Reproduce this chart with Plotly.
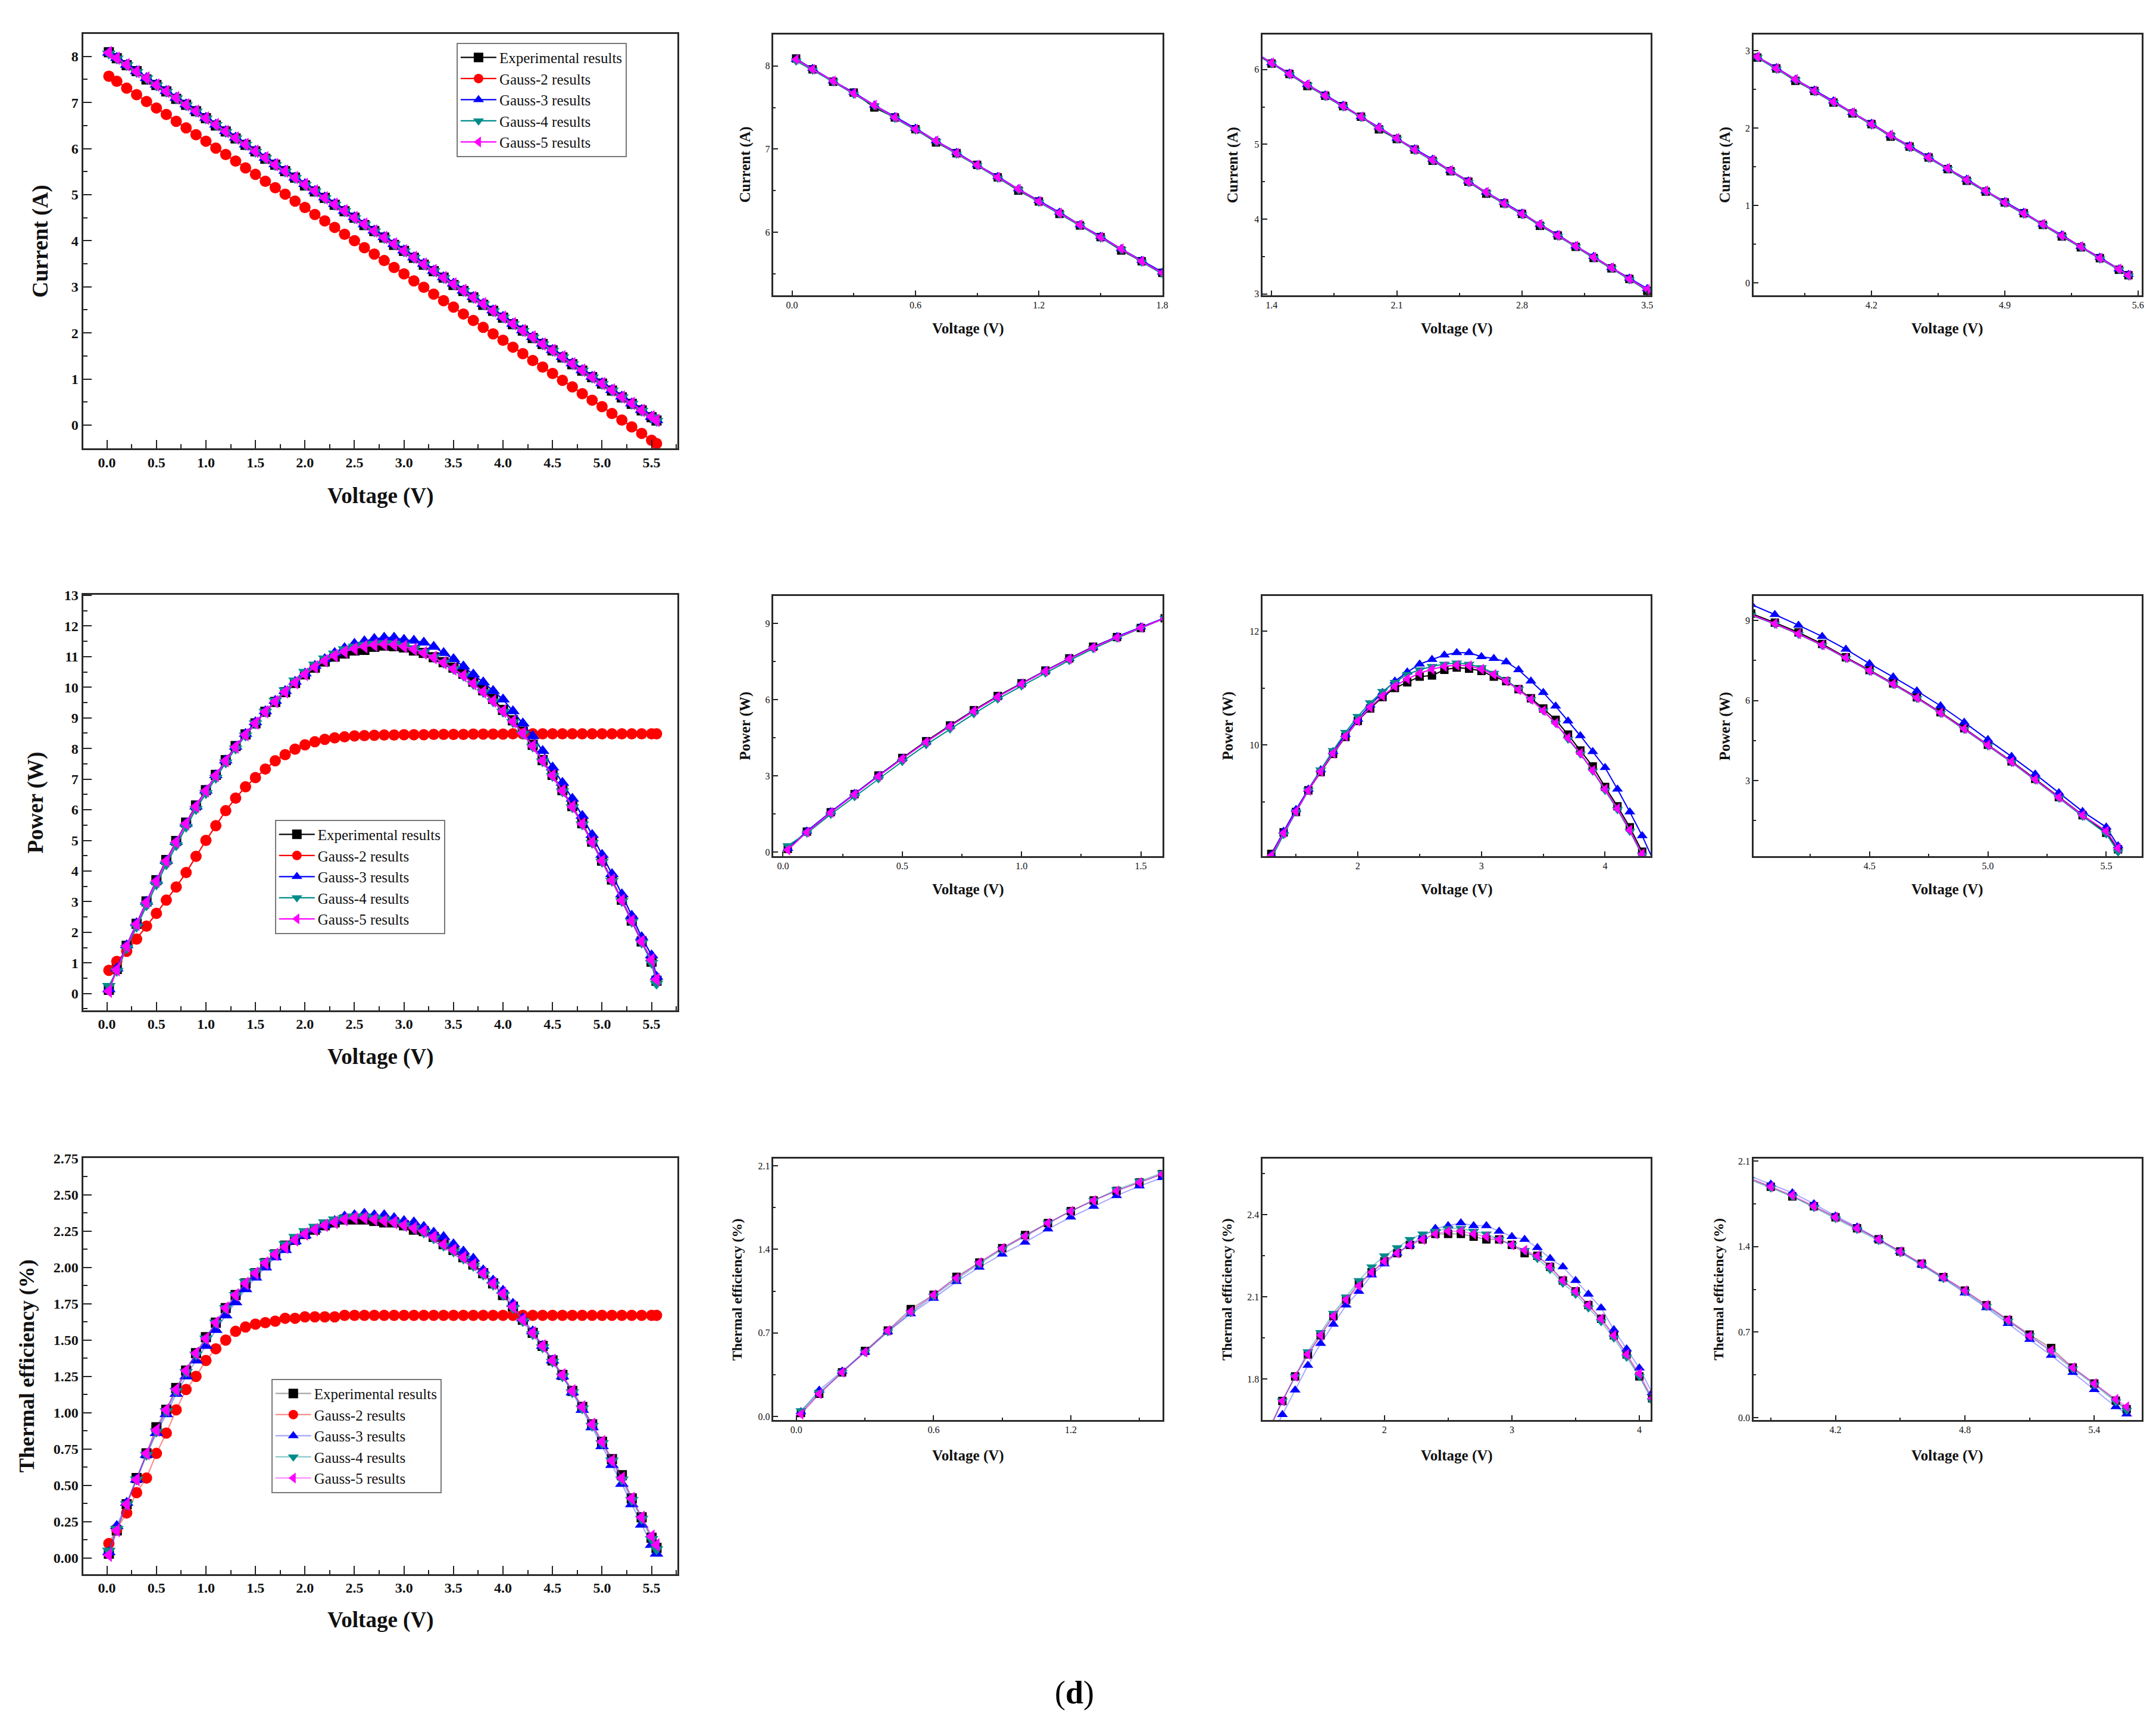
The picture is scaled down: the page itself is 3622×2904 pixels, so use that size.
import plotly.graph_objects as go

# ---- data (voltage grid shared by all series) ----
voltage = [0.02, 0.1, 0.2, 0.3, 0.4, 0.5, 0.6, 0.7, 0.8, 0.9,
           1.0, 1.1, 1.2, 1.3, 1.4, 1.5, 1.6, 1.7, 1.8, 1.9,
           2.0, 2.1, 2.2, 2.3, 2.4, 2.5, 2.6, 2.7, 2.8, 2.9,
           3.0, 3.1, 3.2, 3.3, 3.4, 3.5, 3.6, 3.7, 3.8, 3.9,
           4.0, 4.1, 4.2, 4.3, 4.4, 4.5, 4.6, 4.7, 4.8, 4.9,
           5.0, 5.1, 5.2, 5.3, 5.4, 5.5, 5.55]

cur_exp = [8.09, 7.96, 7.81, 7.68, 7.50, 7.38, 7.24, 7.08, 6.95, 6.81,
           6.66, 6.50, 6.37, 6.22, 6.08, 5.94, 5.78, 5.65, 5.51, 5.37,
           5.20, 5.07, 4.93, 4.78, 4.64, 4.50, 4.34, 4.21, 4.07, 3.91,
           3.78, 3.63, 3.48, 3.34, 3.20, 3.04, 2.91, 2.77, 2.61, 2.48,
           2.33, 2.19, 2.05, 1.89, 1.76, 1.62, 1.47, 1.32, 1.18, 1.04,
           0.90, 0.75, 0.60, 0.46, 0.32, 0.17, 0.10]
cur_g2 = [7.57, 7.46, 7.31, 7.17, 7.02, 6.88, 6.74, 6.59, 6.45, 6.30,
          6.16, 6.01, 5.87, 5.73, 5.58, 5.44, 5.29, 5.15, 5.01, 4.86,
          4.72, 4.57, 4.43, 4.29, 4.14, 4.00, 3.85, 3.71, 3.57, 3.42,
          3.28, 3.13, 2.99, 2.84, 2.70, 2.56, 2.41, 2.27, 2.12, 1.98,
          1.84, 1.69, 1.55, 1.40, 1.26, 1.12, 0.97, 0.83, 0.68, 0.54,
          0.40, 0.25, 0.11, -0.04, -0.18, -0.33, -0.40]
cur_g3 = [8.08, 7.97, 7.82, 7.68, 7.53, 7.39, 7.25, 7.10, 6.96, 6.81,
          6.67, 6.52, 6.38, 6.24, 6.09, 5.95, 5.80, 5.66, 5.52, 5.37,
          5.23, 5.08, 4.94, 4.80, 4.65, 4.51, 4.36, 4.22, 4.08, 3.93,
          3.79, 3.64, 3.50, 3.35, 3.21, 3.07, 2.92, 2.78, 2.63, 2.49,
          2.35, 2.20, 2.06, 1.91, 1.77, 1.63, 1.48, 1.34, 1.19, 1.05,
          0.91, 0.76, 0.62, 0.47, 0.33, 0.18, 0.11]
cur_g4 = [8.06, 7.95, 7.81, 7.66, 7.52, 7.37, 7.23, 7.09, 6.94, 6.80,
          6.65, 6.51, 6.36, 6.22, 6.08, 5.93, 5.79, 5.64, 5.50, 5.36,
          5.21, 5.07, 4.92, 4.78, 4.64, 4.49, 4.35, 4.20, 4.06, 3.92,
          3.77, 3.63, 3.48, 3.34, 3.19, 3.05, 2.91, 2.76, 2.62, 2.47,
          2.33, 2.19, 2.04, 1.90, 1.75, 1.61, 1.47, 1.32, 1.18, 1.03,
          0.89, 0.75, 0.60, 0.46, 0.31, 0.17, 0.09]
cur_g5 = [8.08, 7.96, 7.82, 7.67, 7.53, 7.38, 7.24, 7.10, 6.95, 6.81,
          6.66, 6.52, 6.37, 6.23, 6.09, 5.94, 5.80, 5.65, 5.51, 5.37,
          5.22, 5.08, 4.93, 4.79, 4.65, 4.50, 4.36, 4.21, 4.07, 3.93,
          3.78, 3.64, 3.49, 3.35, 3.20, 3.06, 2.92, 2.77, 2.63, 2.48,
          2.34, 2.20, 2.05, 1.91, 1.76, 1.62, 1.48, 1.33, 1.19, 1.04,
          0.90, 0.76, 0.61, 0.47, 0.32, 0.18, 0.10]

pow_exp = [0.12, 0.80, 1.56, 2.28, 3.01, 3.70, 4.36, 4.98, 5.58, 6.14,
           6.64, 7.14, 7.62, 8.08, 8.46, 8.82, 9.20, 9.52, 9.84, 10.14,
           10.42, 10.64, 10.84, 11.00, 11.10, 11.20, 11.22, 11.32, 11.36, 11.34,
           11.30, 11.20, 11.12, 10.98, 10.82, 10.64, 10.44, 10.18, 9.90, 9.62,
           9.26, 8.92, 8.55, 8.12, 7.62, 7.14, 6.64, 6.12, 5.56, 4.96,
           4.34, 3.72, 3.06, 2.38, 1.70, 1.04, 0.42]
pow_g2 = [0.76, 1.05, 1.38, 1.78, 2.20, 2.62, 3.05, 3.48, 3.95, 4.48,
          5.00, 5.48, 5.97, 6.38, 6.75, 7.05, 7.33, 7.60, 7.80, 7.98,
          8.12, 8.22, 8.30, 8.35, 8.38, 8.41, 8.42, 8.43, 8.44, 8.44,
          8.45, 8.45, 8.45, 8.46, 8.46, 8.46, 8.46, 8.47, 8.47, 8.47,
          8.47, 8.48, 8.48, 8.48, 8.48, 8.48, 8.48, 8.48, 8.48, 8.48,
          8.48, 8.48, 8.48, 8.48, 8.48, 8.48, 8.48]
pow_g3 = [0.14, 0.82, 1.58, 2.30, 3.00, 3.68, 4.33, 4.95, 5.55, 6.11,
          6.63, 7.13, 7.61, 8.06, 8.48, 8.86, 9.22, 9.56, 9.88, 10.18,
          10.45, 10.70, 10.92, 11.12, 11.28, 11.42, 11.50, 11.58, 11.62, 11.62,
          11.55, 11.52, 11.46, 11.32, 11.12, 10.92, 10.68, 10.42, 10.16, 9.88,
          9.60, 9.22, 8.82, 8.40, 7.92, 7.38, 6.88, 6.36, 5.80, 5.18,
          4.53, 3.90, 3.24, 2.54, 1.84, 1.25, 0.55]
pow_g4 = [0.25, 0.74, 1.48, 2.18, 2.88, 3.56, 4.22, 4.84, 5.44, 6.02,
          6.54, 7.04, 7.54, 8.00, 8.42, 8.82, 9.20, 9.56, 9.90, 10.22,
          10.50, 10.74, 10.94, 11.10, 11.24, 11.32, 11.38, 11.42, 11.44, 11.42,
          11.36, 11.26, 11.14, 10.98, 10.80, 10.60, 10.38, 10.10, 9.84, 9.54,
          9.20, 8.86, 8.48, 8.06, 7.58, 7.10, 6.60, 6.08, 5.52, 4.92,
          4.30, 3.68, 3.02, 2.34, 1.66, 1.00, 0.32]
pow_g5 = [0.08, 0.78, 1.55, 2.27, 2.98, 3.67, 4.33, 4.95, 5.55, 6.11,
          6.62, 7.12, 7.60, 8.05, 8.45, 8.83, 9.20, 9.53, 9.85, 10.15,
          10.42, 10.66, 10.86, 11.03, 11.16, 11.26, 11.33, 11.38, 11.40, 11.39,
          11.33, 11.24, 11.12, 10.97, 10.80, 10.60, 10.38, 10.12, 9.85, 9.55,
          9.22, 8.88, 8.50, 8.08, 7.60, 7.12, 6.62, 6.10, 5.54, 4.94,
          4.33, 3.70, 3.04, 2.37, 1.70, 1.10, 0.46]

eff_exp = [0.03, 0.19, 0.37, 0.55, 0.72, 0.90, 1.02, 1.17, 1.29, 1.41,
           1.52, 1.62, 1.72, 1.81, 1.89, 1.96, 2.03, 2.09, 2.15, 2.19,
           2.23, 2.26, 2.29, 2.31, 2.33, 2.33, 2.33, 2.32, 2.31, 2.31,
           2.29, 2.26, 2.25, 2.21, 2.16, 2.12, 2.07, 2.02, 1.96, 1.89,
           1.81, 1.73, 1.64, 1.55, 1.46, 1.36, 1.26, 1.15, 1.04, 0.92,
           0.80, 0.68, 0.57, 0.41, 0.28, 0.14, 0.07]
eff_g2 = [0.10, 0.20, 0.31, 0.45, 0.55, 0.72, 0.86, 1.02, 1.16, 1.25,
          1.36, 1.44, 1.50, 1.56, 1.59, 1.61, 1.62, 1.63, 1.65, 1.65,
          1.66, 1.66, 1.66, 1.66, 1.67, 1.67, 1.67, 1.67, 1.67, 1.67,
          1.67, 1.67, 1.67, 1.67, 1.67, 1.67, 1.67, 1.67, 1.67, 1.67,
          1.67, 1.67, 1.67, 1.67, 1.67, 1.67, 1.67, 1.67, 1.67, 1.67,
          1.67, 1.67, 1.67, 1.67, 1.67, 1.67, 1.67]
eff_g3 = [0.04, 0.22, 0.38, 0.54, 0.71, 0.86, 0.99, 1.13, 1.25, 1.36,
          1.46, 1.57, 1.67, 1.76, 1.85, 1.93, 2.00, 2.07, 2.12, 2.18,
          2.22, 2.26, 2.29, 2.32, 2.35, 2.36, 2.37, 2.36, 2.36, 2.34,
          2.32, 2.31, 2.28, 2.24, 2.21, 2.16, 2.11, 2.06, 1.98, 1.91,
          1.84, 1.75, 1.65, 1.56, 1.46, 1.36, 1.25, 1.14, 1.02, 0.90,
          0.77, 0.64, 0.51, 0.37, 0.23, 0.09, 0.03]
eff_g4 = [0.05, 0.20, 0.37, 0.54, 0.71, 0.87, 1.01, 1.15, 1.28, 1.40,
          1.51, 1.62, 1.72, 1.81, 1.90, 1.97, 2.04, 2.10, 2.16, 2.21,
          2.25, 2.28, 2.31, 2.33, 2.34, 2.35, 2.35, 2.34, 2.33, 2.31,
          2.29, 2.27, 2.24, 2.20, 2.15, 2.11, 2.06, 2.01, 1.95, 1.88,
          1.81, 1.72, 1.63, 1.54, 1.45, 1.35, 1.25, 1.14, 1.03, 0.91,
          0.79, 0.67, 0.54, 0.40, 0.27, 0.13, 0.06]
eff_g5 = [0.02, 0.19, 0.37, 0.54, 0.72, 0.88, 1.02, 1.16, 1.29, 1.41,
          1.51, 1.62, 1.72, 1.81, 1.89, 1.96, 2.03, 2.09, 2.14, 2.19,
          2.23, 2.26, 2.29, 2.31, 2.33, 2.34, 2.34, 2.33, 2.32, 2.31,
          2.29, 2.27, 2.25, 2.21, 2.16, 2.12, 2.07, 2.02, 1.96, 1.89,
          1.82, 1.73, 1.64, 1.55, 1.46, 1.36, 1.26, 1.15, 1.04, 0.92,
          0.80, 0.67, 0.55, 0.41, 0.28, 0.15, 0.09]

series_names = ["Experimental results", "Gauss-2 results", "Gauss-3 results",
                "Gauss-4 results", "Gauss-5 results"]
colors = ["#000000", "#ff0000", "#0000ff", "#008b8b", "#ff00ff"]
light = ["rgba(0,0,0,0.35)", "rgba(255,0,0,0.45)", "rgba(0,0,255,0.35)",
         "rgba(0,139,139,0.45)", "rgba(255,0,255,0.45)"]
symbols = ["square", "circle", "triangle-up", "triangle-down", "triangle-left"]

metrics = [
    ("Current (A)", [cur_exp, cur_g2, cur_g3, cur_g4, cur_g5]),
    ("Power (W)", [pow_exp, pow_g2, pow_g3, pow_g4, pow_g5]),
    ("Thermal efficiency (%)", [eff_exp, eff_g2, eff_g3, eff_g4, eff_g5]),
]

W, H = 3622, 2904
FONT = "Liberation Serif, Times New Roman, serif"

col_px = [(132, 1133), (1295, 1950), (2119, 2773), (2946, 3600)]
row_main_px = [(37, 738), (985, 1687), (1937, 2640)]
row_zoom_px = [(38, 479), (987, 1427), (1938, 2380)]

# per panel: x range, x tick0/dtick/minor, y range, y tick0/dtick/minor, x fmt, y fmt
panel_axes = [
    [((-0.24, 5.76), 0, 0.5, 0.25, (-0.51, 8.49), 0, 1, 0.5, ".1f", ".0f"),
     ((-0.09, 1.80), 0, 0.6, 0.3, (5.24, 8.38), 0, 1, 0.5, ".1f", ".0f"),
     ((1.35, 3.52), 1.4, 0.7, 0.35, (2.98, 6.47), 0, 1, 0.5, ".1f", ".0f"),
     ((3.58, 5.62), 4.2, 0.7, 0.35, (-0.16, 3.21), 0, 1, 0.5, ".1f", ".0f")],
    [((-0.24, 5.76), 0, 0.5, 0.25, (-0.54, 13.02), 0, 1, 0.5, ".1f", ".0f"),
     ((-0.04, 1.59), 0, 0.5, 0.25, (-0.17, 10.08), 0, 3, 1.5, ".1f", ".0f"),
     ((1.23, 4.37), 0, 1, 0.5, (8.04, 12.62), 0, 2, 1, ".0f", ".0f"),
     ((4.01, 5.65), 0, 0.5, 0.25, (0.16, 9.92), 0, 3, 1.5, ".1f", ".0f")],
    [((-0.24, 5.76), 0, 0.5, 0.25, (-0.11, 2.753), 0, 0.25, 0.125, ".1f", ".2f"),
     ((-0.10, 1.60), 0, 0.6, 0.3, (-0.03, 2.16), 0, 0.7, 0.35, ".1f", ".1f"),
     ((1.045, 4.09), 0, 1, 0.5, (1.65, 2.605), 0, 0.3, 0.15, ".0f", ".1f"),
     ((3.82, 5.62), 0, 0.6, 0.3, (-0.02, 2.12), 0, 0.7, 0.35, ".1f", ".1f")],
]

main_ytitle_x = [60, 52, 37]
main_xtitle_y = [818, 1766, 2718]
zoom_xtitle_y = [535, 1483, 2440]
zoom_ytitle_x = [[1247, 2069, 2898], [1247, 2060, 2898], [1233, 2058, 2887]]

fig = go.Figure()
layout_axes = {}
annotations = []
legend_ids = ["legend", "legend2", "legend3"]

k = 0
for r, (ytitle, ys) in enumerate(metrics):
    for c in range(4):
        k += 1
        main = c == 0
        xr, xt0, xdt, xmn, yr, yt0, ydt, ymn, xf, yf = panel_axes[r][c]
        x0, x1 = col_px[c]
        y0, y1 = row_main_px[r] if main else row_zoom_px[r]
        xname = "x" if k == 1 else f"x{k}"
        yname = "y" if k == 1 else f"y{k}"

        for s in range(5):
            if s == 1 and not main:
                continue
            lc = light[s] if r == 2 else colors[s]
            if main:
                msize = 19 if s == 1 else (17 if s == 0 else 20)
            else:
                msize = 14 if s == 0 else 16
            fig.add_trace(go.Scatter(
                x=voltage, y=ys[s], mode="lines+markers",
                name=series_names[s], xaxis=xname, yaxis=yname,
                legend=legend_ids[r], showlegend=main,
                line=dict(color=lc, width=2.2 if main else 2),
                marker=dict(symbol=symbols[s], color=colors[s], size=msize),
            ))

        tickfont = dict(family=FONT, size=24 if main else 16, color="#111",
                        weight="bold" if main else "normal")
        common = dict(showline=True, mirror=True, linecolor="#2a2a2a",
                      linewidth=3 if main else 2.5, ticks="inside",
                      ticklen=14 if main else 8, tickwidth=2 if main else 1.5,
                      tickcolor="#222", showgrid=False, zeroline=False,
                      tickfont=tickfont)
        layout_axes["xaxis" if k == 1 else f"xaxis{k}"] = dict(
            common, domain=[x0 / W, x1 / W], range=list(xr), anchor=yname,
            tickmode="linear", tick0=xt0, dtick=xdt, tickformat=xf,
            minor=dict(ticks="inside", ticklen=7 if main else 4, tick0=xt0,
                       dtick=xmn, tickcolor="#222", showgrid=False))
        layout_axes["yaxis" if k == 1 else f"yaxis{k}"] = dict(
            common, domain=[1 - y1 / H, 1 - y0 / H], range=list(yr), anchor=xname,
            tickmode="linear", tick0=yt0, dtick=ydt, tickformat=yf,
            minor=dict(ticks="inside", ticklen=7 if main else 4, tick0=yt0,
                       dtick=ymn, tickcolor="#222", showgrid=False))

        # axis titles as annotations (fixed pixel positions)
        tsize = 37 if main else 25
        if r == 2:
            tsize = 36 if main else 24
        annotations.append(dict(
            text="<b>Voltage (V)</b>", xref="paper", yref="paper",
            x=(x0 + x1) / 2 / W,
            y=1 - (main_xtitle_y[r] if main else zoom_xtitle_y[r]) / H,
            showarrow=False, xanchor="center", yanchor="middle",
            font=dict(family=FONT, size=37 if main else 25, color="#111")))
        annotations.append(dict(
            text=f"<b>{ytitle}</b>", xref="paper", yref="paper",
            x=(main_ytitle_x[r] if main else zoom_ytitle_x[r][c - 1]) / W,
            y=1 - (y0 + y1) / 2 / H, textangle=-90,
            showarrow=False, xanchor="center", yanchor="middle",
            font=dict(family=FONT, size=tsize, color="#111")))

annotations.append(dict(
    text="(<b>d</b>)", xref="paper", yref="paper", x=1802 / W, y=1 - 2841 / H,
    showarrow=False, xanchor="center", yanchor="middle",
    font=dict(family=FONT, size=54, color="#000")))

legend_style = dict(font=dict(family=FONT, size=25, color="#111"), bgcolor="white",
                    bordercolor="#777", borderwidth=2, itemwidth=60,
                    xanchor="left", yanchor="top", tracegroupgap=0)
legend_pos = [(761, 52), (455, 1365), (449, 2310)]

fig.update_layout(
    width=W, height=H,
    margin=dict(l=0, r=0, t=0, b=0),
    paper_bgcolor="white", plot_bgcolor="white",
    font=dict(family=FONT, color="#111"),
    annotations=annotations,
    **layout_axes,
)
for lid, (lx, ly) in zip(legend_ids, legend_pos):
    fig.update_layout({lid: dict(legend_style, x=lx / W, y=1 - ly / H)})

fig.write_html("out.html")
